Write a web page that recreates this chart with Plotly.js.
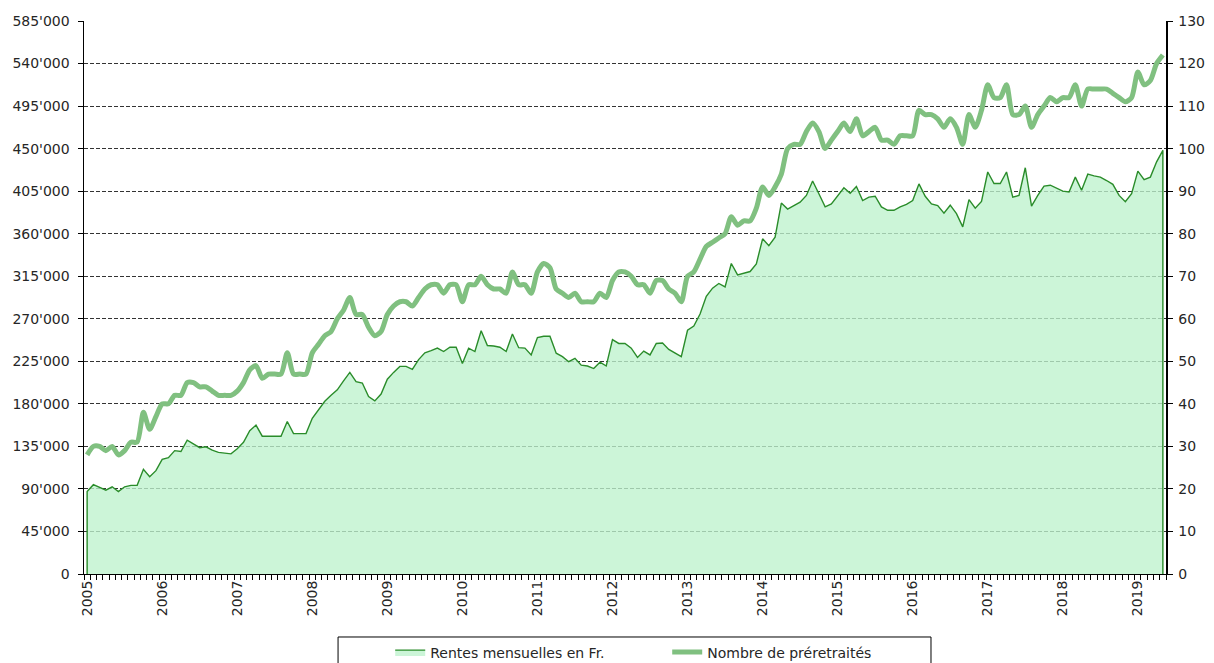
<!DOCTYPE html>
<html>
<head>
<meta charset="utf-8">
<script src="https://cdn.plot.ly/plotly-3.0.1.min.js"></script>
<style>html,body{margin:0;padding:0;background:#fff;}#chart{width:1214px;height:663px;}</style>
</head>
<body>
<div id="chart"></div>
<script>
// Monthly data, January 2005 to May 2019
const yearLabels = ['2005','2006','2007','2008','2009','2010','2011','2012','2013','2014','2015','2016','2017','2018','2019'];

const rentes = [
 87300, 94500, 91800, 88650, 92250, 87100, 92250, 93800, 93800,110700,103000,109350,
121300,123000,130500,129600,141500,137250,133650,134550,130950,128700,128250,127100,
132500,139300,151650,157500,145800,145800,145800,145800,161300,148500,148500,148500,
164700,174150,182700,189000,194850,204300,213300,203400,202050,187650,183150,190350,
206100,213300,219600,219600,216450,226800,234000,236250,238950,235350,239850,239850,
222750,238950,235350,257400,241650,241200,239850,235350,253800,239400,238950,231750,
250200,251550,251550,233550,229950,224550,228150,220950,220050,217350,224100,220050,
247950,243900,243900,238950,229050,235800,231750,243900,244350,237600,234000,229950,
257850,262350,274950,293850,302400,307350,303750,328500,316350,318150,319950,328050,
354600,347400,356400,392400,386100,389700,393300,400500,415800,402300,388350,391500,
400500,408600,402750,409950,395100,398700,399600,388350,384750,384750,388350,391050,
395100,412650,399600,391500,389700,381800,390150,381150,367200,396000,387000,394200,
425250,413100,413100,425250,398700,400500,429750,389250,400500,410400,411300,407700,
405000,404100,419850,405900,423000,421200,419850,416250,412200,400500,393750,402300,
426150,417150,419850,436050,448200];

const preretraites = [
 28, 30, 30, 29, 30, 28, 29, 31, 31, 38, 34, 37,
 40, 40, 42, 42, 45, 45, 44, 44, 43, 42, 42, 42,
 43, 45, 48, 49, 46, 47, 47, 47, 52, 47, 47, 47,
 52, 54, 56, 57, 60, 62, 65, 61, 61, 58, 56, 57,
 61, 63, 64, 64, 63, 65, 67, 68, 68, 66, 68, 68,
 64, 68, 68, 70, 68, 67, 67, 66, 71, 68, 68, 66,
 71, 73, 72, 67, 66, 65, 66, 64, 64, 64, 66, 65,
 69, 71, 71, 70, 68, 68, 66, 69, 69, 67, 66, 64,
 70, 71, 74, 77, 78, 79, 80, 84, 82, 83, 83, 86,
 91, 89, 91, 94,100,101,101,104,106,104,100,102,
104,106,104,107,103,104,105,102,102,101,103,103,
103,109,108,108,107,105,107,105,101,108,105,109,
115,112,112,115,108,108,110,105,108,110,112,111,
112,112,115,110,114,114,114,114,113,112,111,112,
118,115,116,120,122];

const nameArea = 'Rentes mensuelles en Fr.';
const nameLine = 'Nombre de préretraités';

const idx = rentes.map((_, i) => i);
const yearTicks = yearLabels.map((_, k) => k * 12);
const n = rentes.length;

// area outline closes down to zero at both ends
const areaX = [0].concat(idx, [n - 1]);
const areaY = [0].concat(rentes, [0]);

const font = {family: 'DejaVu Sans, sans-serif', size: 14, color: '#262626'};

const traces = [
  {
    x: areaX, y: areaY, name: nameArea, type: 'scatter', mode: 'lines',
    fill: 'toself', fillcolor: 'rgba(190,242,205,0.78)',
    line: {color: '#2a8c2a', width: 1.4}, yaxis: 'y', hoverinfo: 'skip'
  },
  {
    x: idx, y: preretraites, name: nameLine, type: 'scatter', mode: 'lines',
    line: {color: '#80c080', width: 5, shape: 'spline', smoothing: 0.7}, yaxis: 'y2'
  }
];

const layout = {
  width: 1214, height: 663,
  margin: {l: 84, r: 48, t: 21, b: 89, pad: 0, autoexpand: false},
  paper_bgcolor: '#fff', plot_bgcolor: 'rgba(0,0,0,0)',
  separators: ".'",
  font: font,
  showlegend: true,
  xaxis: {
    range: [-0.5, n - 0.5], tickmode: 'array', tickvals: yearTicks, ticktext: yearLabels,
    tickangle: -90, ticks: '', showgrid: false, zeroline: false, automargin: false,
    showline: true, linecolor: '#000', linewidth: 1,
    tickfont: font,
    minor: {tickmode: 'linear', tick0: -0.5, dtick: 1, ticks: 'outside', ticklen: 5, tickcolor: '#000', tickwidth: 1, showgrid: false}
  },
  yaxis: {
    range: [0, 585000], tickmode: 'linear', tick0: 0, dtick: 45000, tickformat: ',d',
    showline: true, linecolor: '#000', linewidth: 1.5, automargin: false,
    ticks: 'outside', ticklen: 5, tickcolor: '#000', ticklabelstandoff: 5,
    showgrid: true, gridcolor: '#333', gridwidth: 1, griddash: '4px,2px',
    zeroline: false, tickfont: font
  },
  yaxis2: {
    range: [0, 130], tickmode: 'linear', tick0: 0, dtick: 10,
    overlaying: 'y', side: 'right', automargin: false,
    showline: true, linecolor: '#000', linewidth: 1.5,
    ticks: 'outside', ticklen: 5, tickcolor: '#000', ticklabelstandoff: 3,
    showgrid: false, zeroline: false, tickfont: font
  },
  legend: {
    orientation: 'h', x: 0.283, xanchor: 'left', y: -0.113, yanchor: 'top',
    bgcolor: 'rgba(0,0,0,0)', borderwidth: 0, font: font,
    entrywidth: 232, entrywidthmode: 'pixels', traceorder: 'normal'
  },
  shapes: [
    {type: 'rect', xref: 'paper', yref: 'paper', x0: 0.2348, x1: 0.7828, y0: -0.1139, y1: -0.2,
     line: {color: '#000', width: 1}, fillcolor: 'rgba(0,0,0,0)', layer: 'below'}
  ]
};

Plotly.newPlot('chart', traces, layout, {displayModeBar: false, staticPlot: true});
</script>
</body>
</html>
